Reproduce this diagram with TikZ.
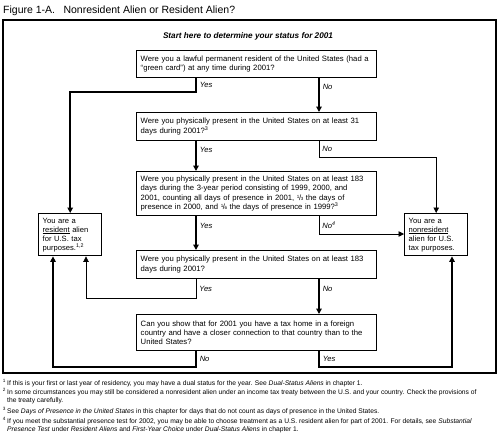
\documentclass[tikz,border=0pt]{standalone}
\usepackage{fontspec}
\setmainfont{Liberation Sans}
\usetikzlibrary{arrows.meta}
\tikzset{
  qbox/.style={draw, line width=1.4pt, text width=232pt, inner sep=4pt, align=left, anchor=north west, font=\fontsize{7.7}{9.4}\selectfont},
  abox/.style={draw, line width=1.4pt, text width=55pt, inner sep=4pt, align=left, anchor=north west, minimum height=42pt, font=\fontsize{7.6}{9}\selectfont},
  main/.style={line width=1.5pt, -{Triangle[width=5.5pt,length=5.5pt]}},
  side/.style={line width=0.7pt, -{Triangle[width=5.5pt,length=5.5pt]}},
  lbl/.style={right, inner sep=3pt, font=\itshape\fontsize{7.6}{8}\selectfont},
  fn/.style={anchor=north west, align=left, inner sep=0pt, font=\fontsize{6.7}{8.2}\selectfont}
}
\newcommand{\frc}[2]{\raisebox{0.45ex}{\fontsize{4.5}{4.5}\selectfont #1}\kern-0.05em/\kern-0.05em{\fontsize{4.5}{4.5}\selectfont #2}}
\begin{document}
\begin{tikzpicture}[x=1pt,y=-1pt]
	\useasboundingbox (0,0) rectangle (500,444);
	\node[anchor=base west, inner sep=0pt, font=\fontsize{10.5}{12}\selectfont] (title) at (3,14) {Figure 1-A.\hspace{0.8em}Nonresident Alien or Resident Alien?};
	\draw[line width=2pt] (3,20) rectangle (496,373);
	\node[anchor=base, inner sep=0pt, font=\bfseries\itshape\fontsize{8.2}{9}\selectfont] (start) at (248,39) {Start here to determine your status for 2001};
	\node[qbox, minimum height=27pt] (q1) at (136,50) {Were you a lawful permanent resident of the United States (had a\\``green card'') at any time during 2001?};
	\node[qbox, minimum height=28pt] (q2) at (136,112) {Were you physically present in the United States on at least 31\\days during 2001?\textsuperscript{3}};
	\node[qbox, minimum height=44pt] (q3) at (136,171) {Were you physically present in the United States on at least 183\\days during the 3-year period consisting of 1999, 2000, and\\2001, counting all days of presence in 2001, \frc{1}{3} the days of\\presence in 2000, and \frc{1}{6} the days of presence in 1999?\textsuperscript{3}};
	\node[qbox, minimum height=28pt] (q4) at (136,250) {Were you physically present in the United States on at least 183\\days during 2001?};
	\node[qbox, minimum height=36pt] (q5) at (136,314) {Can you show that for 2001 you have a tax home in a foreign\\country and have a closer connection to that country than to the\\United States?};
	\node[abox] (res) at (38,213) {You are a\\\underline{resident} alien\\for U.S. tax\\purposes.\textsuperscript{1,2}};
	\node[abox] (non) at (404,213) {You are a\\\underline{nonresident}\\alien for U.S.\\tax purposes.};
	\coordinate (yx) at (196,0);
	\coordinate (nx) at (319,0);
	\coordinate (k1) at (196,92);
	\coordinate (k2) at (319,157);
	\coordinate (k3) at (319,234);
	\coordinate (k4) at (196,298);
	\coordinate (k5) at (196,367);
	\coordinate (k6) at (319,367);
	\coordinate (r1) at (53,0);
	\coordinate (r2) at (86,0);
	\coordinate (n3) at (452,0);
	\draw[main] (q1.south -| k1) -- node[lbl]{Yes} (k1) -| (res.north);
	\draw[main] (q1.south -| nx) -- node[lbl, pos=0.26]{No} (q2.north -| nx);
	\draw[main] (q2.south -| yx) -- node[lbl, pos=0.28]{Yes} (q3.north -| yx);
	\draw[side] (q2.south -| k2) -- node[lbl]{No} (k2) -| (non.north);
	\draw[main] (q3.south -| yx) -- node[lbl, pos=0.28]{Yes} (q4.north -| yx);
	\draw[side] (q3.south -| k3) -- node[lbl]{No\textsuperscript{4}} (k3) -- (k3 -| non.west);
	\draw[side] (q4.south -| k4) -- node[lbl]{Yes} (k4) -| (res.south -| r2);
	\draw[main] (q4.south -| nx) -- node[lbl, pos=0.28]{No} (q5.north -| nx);
	\draw[main] (q5.south -| k5) -- node[lbl]{No} (k5) -| (res.south -| r1);
	\draw[main] (q5.south -| k6) -- node[lbl]{Yes} (k6) -| (non.south -| n3);
	\node[fn] (fn1) at (7,379) {\llap{\textsuperscript{1}\,}If this is your first or last year of residency, you may have a dual status for the year. See \textit{Dual-Status Aliens} in chapter 1.};
	\node[fn] (fn2) at (7,388) {\llap{\textsuperscript{2}\,}In some circumstances you may still be considered a nonresident alien under an income tax treaty between the U.S. and your country. Check the provisions of\\the treaty carefully.};
	\node[fn] (fn3) at (7,407) {\llap{\textsuperscript{3}\,}See \textit{Days of Presence in the United States} in this chapter for days that do not count as days of presence in the United States.};
	\node[fn] (fn4) at (7,417) {\llap{\textsuperscript{4}\,}If you meet the substantial presence test for 2002, you may be able to choose treatment as a U.S. resident alien for part of 2001. For details, see \textit{Substantial}\\\textit{Presence Test} under \textit{Resident Aliens} and \textit{First-Year Choice} under \textit{Dual-Status Aliens} in chapter 1.};
\end{tikzpicture}
\end{document}
